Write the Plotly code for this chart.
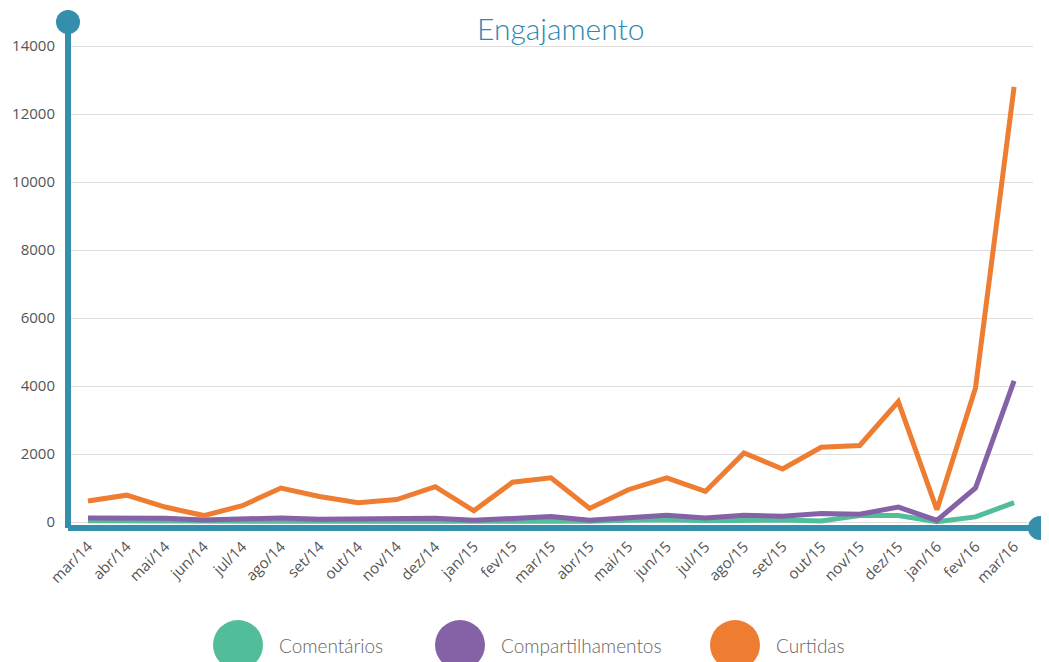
import plotly.graph_objects as go

meses = ["mar/14", "abr/14", "mai/14", "jun/14", "jul/14", "ago/14", "set/14", "out/14",
         "nov/14", "dez/14", "jan/15", "fev/15", "mar/15", "abr/15", "mai/15", "jun/15",
         "jul/15", "ago/15", "set/15", "out/15", "nov/15", "dez/15", "jan/16", "fev/16", "mar/16"]

comentarios = [40, 30, 20, 5, 10, 20, 20, 20, 20, 30, 10, 30, 40, 20, 50, 70,
               40, 50, 60, 30, 190, 190, 10, 150, 570]
compartilhamentos = [120, 120, 110, 60, 80, 120, 80, 80, 80, 110, 50, 120, 160, 50, 120, 200,
                     120, 200, 170, 250, 230, 440, 50, 1000, 4150]
curtidas = [620, 790, 440, 190, 480, 1000, 750, 570, 660, 1040, 330, 1170, 1300, 400, 950, 1300,
            900, 2030, 1560, 2200, 2250, 3540, 360, 3940, 12800]

series = [("Comentários", comentarios, "#52BD9A"),
          ("Compartilhamentos", compartilhamentos, "#8561A6"),
          ("Curtidas", curtidas, "#EE7D31")]

y_ticks = [0, 2000, 4000, 6000, 8000, 10000, 12000, 14000]

TEAL = "#338FAB"
OFF = 8  # page body margin
W, H = 1049 - OFF, 662 - OFF
L, R, T, B = 68 - OFF, 1033 - OFF, 22 - OFF, 528 - OFF

fig = go.Figure()
x_idx = list(range(len(meses)))
for name, vals, col in series:
    fig.add_trace(go.Scatter(x=x_idx, y=vals, mode="lines", name=name,
                             line=dict(color=col, width=5), showlegend=False))

fig.update_layout(
    width=W, height=H,
    margin=dict(l=L, r=W - R, t=T, b=H - B, autoexpand=False),
    paper_bgcolor="white", plot_bgcolor="white",
    font=dict(family="Open Sans, Liberation Sans, sans-serif", color="#555555"),
    xaxis=dict(range=[-0.518, 24.49], tickmode="array", tickvals=x_idx, ticktext=meses,
               tickangle=-45, showgrid=False, zeroline=False, showline=False, automargin=False,
               tickfont=dict(size=15, color="#555555"), ticks="", ticklabelstandoff=6),
    yaxis=dict(range=[-176, 14706], tickmode="array", tickvals=y_ticks,
               ticktext=[str(v) for v in y_ticks], showgrid=True, gridcolor="#DDDDDD",
               gridwidth=1, zeroline=False, showline=False, automargin=False,
               tickfont=dict(size=15, color="#555555"), ticks="", ticklabelstandoff=12),
)

# axis lines with round end caps
fig.add_shape(type="line", xref="paper", yref="paper", x0=0, x1=0, y0=0, y1=1,
              line=dict(color=TEAL, width=6))
x_end = (1040 - OFF - L) / (R - L)
fig.add_shape(type="line", xref="paper", yref="paper", x0=0, x1=x_end, y0=0, y1=0,
              line=dict(color=TEAL, width=6))
fig.add_shape(type="circle", xref="paper", yref="paper", xsizemode="pixel", ysizemode="pixel",
              xanchor=0, yanchor=1, x0=-12, x1=12, y0=-12, y1=12,
              fillcolor=TEAL, line=dict(width=0))
fig.add_shape(type="circle", xref="paper", yref="paper", xsizemode="pixel", ysizemode="pixel",
              xanchor=x_end, yanchor=0, x0=-12, x1=12, y0=-12, y1=12,
              fillcolor=TEAL, line=dict(width=0))

# title
fig.add_annotation(text="Engajamento", xref="paper", yref="paper",
                   x=(560 - OFF - L) / (R - L), y=1, yshift=T, xanchor="center", yanchor="top",
                   showarrow=False, font=dict(size=30, color="#2D87B0", weight=300,
                                               family="Lato, Roboto, Liberation Sans, sans-serif"))

# custom legend
leg_centers = [238, 460, 735]
leg_y = -(645 - OFF - B) / (B - T)
for (name, vals, col), cx in zip(series, leg_centers):
    px = (cx - OFF - L) / (R - L)
    fig.add_shape(type="circle", xref="paper", yref="paper", xsizemode="pixel", ysizemode="pixel",
                  xanchor=px, yanchor=leg_y, x0=-25, x1=25, y0=-25, y1=25,
                  fillcolor=col, line=dict(width=0))
    fig.add_annotation(text=name, xref="paper", yref="paper",
                       x=(cx + 39 - OFF - L) / (R - L), y=leg_y, xanchor="left", yanchor="middle",
                       showarrow=False, font=dict(size=19, color="#666666", weight=300,
                                                   family="Lato, Roboto, Liberation Sans, sans-serif"))

fig.write_html("out.html")
